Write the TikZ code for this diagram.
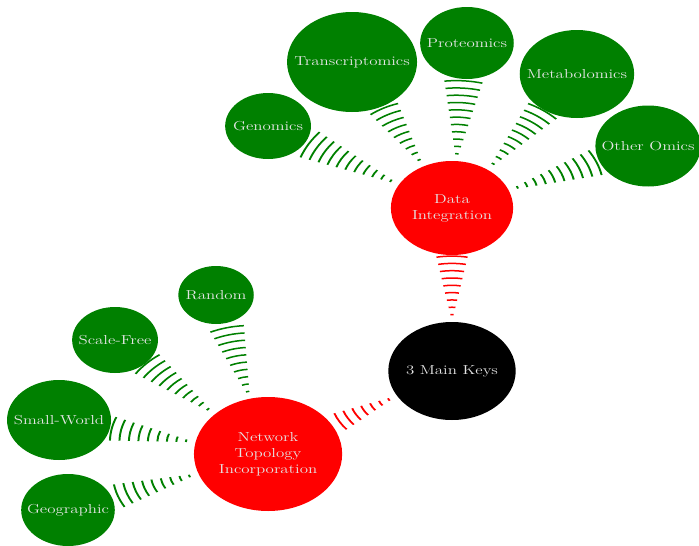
\documentclass[tikz,border=0pt]{standalone}
\usetikzlibrary{decorations.pathreplacing}
\definecolor{leafgreen}{rgb}{0,0.5,0}
\definecolor{labelgray}{gray}{0.9}
\begin{document}
\begin{tikzpicture}[x=1pt,y=-1pt,
  concept/.style={circle, fill=#1, text=labelgray, inner sep=0pt, align=center,
    font=\fontsize{13}{15.8}\selectfont},
  rootnode/.style={concept=black},
  branchnode/.style={concept=red},
  leafnode/.style={concept=leafgreen},
  waves/.style={decorate, line width=1.5pt,
    decoration={expanding waves, angle=10.5, segment length=7.3pt}},
  redwaves/.style={waves, draw=red},
  greenwaves/.style={waves, draw=leafgreen}]
\useasboundingbox (0,0) rectangle (699,546);
% the whole map is drawn with circles and then stretched sideways
\begin{scope}[transform canvas={xscale=1.3}]
  % centre
  \node[rootnode, minimum size=98pt] (keys) at (347.7,371) {3 Main Keys};
  % branches
  \node[branchnode, minimum size=94pt] (data) at (347.7,208) {Data\\Integration};
  \node[branchnode, minimum size=114pt] (net) at (206.2,454) {Network\\Topology\\Incorporation};
  % omics leaves
  \node[leafnode, minimum size=66pt] (gen) at (206.2,126) {Genomics};
  \node[leafnode, minimum size=100pt] (trans) at (270.8,62) {Transcriptomics};
  \node[leafnode, minimum size=72pt] (prot) at (359.2,43) {Proteomics};
  \node[leafnode, minimum size=88pt] (meta) at (443.8,74) {Metabolomics};
  \node[leafnode, minimum size=81pt] (other) at (498.5,146) {Other Omics};
  % topology leaves
  \node[leafnode, minimum size=58pt] (rand) at (166.2,295) {Random};
  \node[leafnode, minimum size=66pt] (scale) at (88.5,340) {Scale-Free};
  \node[leafnode, minimum size=80pt] (small) at (45.4,420) {Small-World};
  \node[leafnode, minimum size=72pt] (geo) at (52.3,510) {Geographic};
  % connectors
  \draw[redwaves] (keys) -- (data);
  \draw[redwaves] (keys) -- (net);
  \draw[greenwaves] (data) -- (gen);
  \draw[greenwaves] (data) -- (trans);
  \draw[greenwaves] (data) -- (prot);
  \draw[greenwaves] (data) -- (meta);
  \draw[greenwaves] (data) -- (other);
  \draw[greenwaves] (net) -- (rand);
  \draw[greenwaves] (net) -- (scale);
  \draw[greenwaves] (net) -- (small);
  \draw[greenwaves] (net) -- (geo);
\end{scope}
\end{tikzpicture}
\end{document}
